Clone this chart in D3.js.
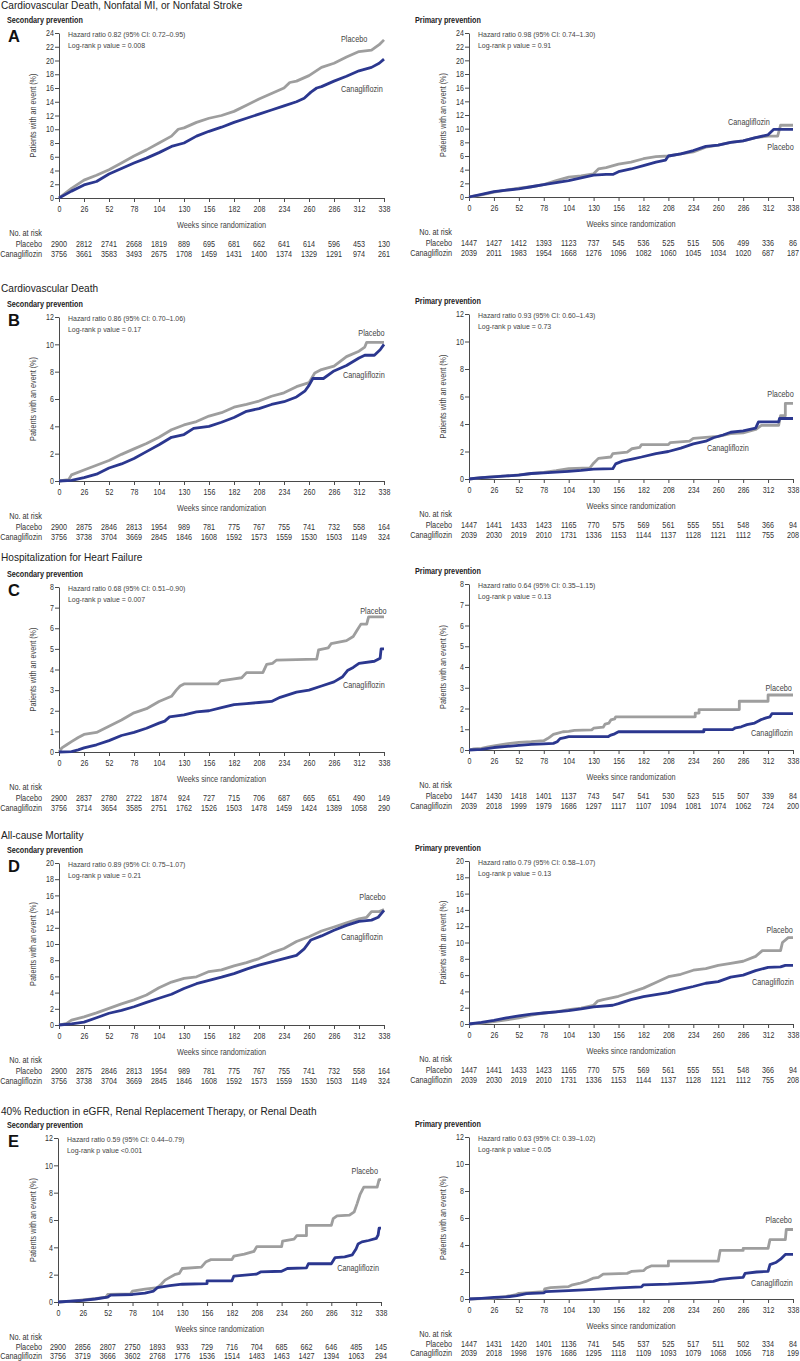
<!DOCTYPE html>
<html><head><meta charset="utf-8">
<script src="https://cdn.jsdelivr.net/npm/d3@7"></script>
<style>
body{margin:0;background:#fff}
svg{display:block}
text{font-family:"Liberation Sans",Arial,sans-serif}
</style></head><body>
<svg id="chart" width="800" height="1361"></svg>
<script>
// ---------- DATA ----------
const weekTicks = [0,26,52,78,104,130,156,182,208,234,260,286,312,338];
const yTicksA = [0,2,4,6,8,10,12,14,16,18,20,22,24];
const yTicksB = [0,2,4,6,8,10,12];
const yTicksC = [0,1,2,3,4,5,6,7,8];
const yTicksD = [0,2,4,6,8,10,12,14,16,18,20];
const yTicksE = [0,2,4,6,8,10,12];

const outcomeTitles = [
  "Cardiovascular Death, Nonfatal MI, or Nonfatal Stroke",
  "Cardiovascular Death",
  "Hospitalization for Heart Failure",
  "All-cause Mortality",
  "40% Reduction in eGFR, Renal Replacement Therapy, or Renal Death"
];
const panelLetters = ["A","B","C","D","E"];
const groupNames = ["Placebo","Canagliflozin"];

// Kaplan-Meier curves: [week, % with event]
const aSecPlacebo = [[0,0],[13,1.4],[26,2.6],[39,3.3],[52,4.1],[65,5.1],[78,6.1],[91,7.0],[104,8.0],[117,9.0],[124,10.0],[130,10.2],[143,11.0],[156,11.6],[169,12.0],[182,12.6],[195,13.5],[208,14.4],[221,15.2],[234,16.0],[240,16.8],[247,17.0],[260,17.8],[273,19.0],[286,19.6],[299,20.5],[312,21.3],[325,21.5],[333,22.3],[338,23.0]];
const aSecCana = [[0,0],[13,1.0],[26,1.9],[39,2.4],[52,3.5],[65,4.3],[78,5.1],[91,5.8],[104,6.6],[117,7.5],[130,8.0],[143,9.0],[156,9.7],[169,10.3],[182,11.0],[195,11.6],[208,12.2],[221,12.8],[234,13.4],[247,14.0],[255,14.5],[262,15.4],[268,16.0],[273,16.2],[286,17.0],[299,17.7],[312,18.5],[325,19.0],[333,19.6],[338,20.2]];
const aPriPlacebo = [[0,0],[13,0.3],[26,0.7],[39,1.0],[52,1.3],[65,1.5],[78,1.8],[91,2.4],[104,2.9],[117,3.1],[130,3.4],[135,4.1],[143,4.3],[156,4.8],[169,5.1],[182,5.6],[195,5.9],[208,6.0],[221,6.3],[234,6.6],[247,7.3],[260,7.6],[273,8.0],[286,8.2],[299,8.7],[312,8.9],[322,8.9],[325,10.5],[338,10.5]];
const aPriCana = [[0,0],[13,0.4],[26,0.8],[39,1.0],[52,1.2],[65,1.5],[78,1.8],[91,2.1],[104,2.4],[117,2.8],[130,3.2],[143,3.3],[150,3.3],[156,3.7],[169,4.1],[182,4.6],[195,5.1],[205,5.4],[208,6.0],[221,6.3],[234,6.8],[247,7.4],[260,7.6],[273,8.0],[286,8.2],[299,8.7],[312,9.1],[318,9.9],[338,9.9]];

const bSecPlacebo = [[0,0],[10,0.1],[13,0.45],[26,0.8],[39,1.15],[52,1.5],[65,1.95],[78,2.35],[91,2.75],[104,3.2],[117,3.75],[130,4.1],[143,4.35],[156,4.75],[169,5.0],[182,5.4],[195,5.6],[208,5.85],[221,6.2],[234,6.45],[247,6.9],[260,7.2],[266,7.9],[273,8.15],[286,8.4],[299,9.1],[312,9.5],[318,9.8],[320,10.15],[338,10.15]];
const bSecCana = [[0,0],[13,0.05],[26,0.25],[39,0.5],[52,0.95],[65,1.25],[78,1.65],[91,2.15],[104,2.65],[117,3.2],[130,3.4],[140,3.85],[156,4.0],[169,4.3],[182,4.65],[195,5.1],[208,5.3],[221,5.6],[234,5.8],[247,6.15],[256,6.6],[260,7.0],[264,7.5],[275,7.5],[286,8.05],[299,8.45],[312,9.0],[318,9.2],[328,9.2],[334,9.6],[338,10.0]];
const bPriPlacebo = [[0,0],[13,0.1],[26,0.17],[39,0.22],[52,0.3],[65,0.4],[78,0.48],[91,0.6],[104,0.75],[126,0.8],[130,1.15],[135,1.5],[148,1.6],[150,1.85],[165,1.95],[170,2.2],[178,2.3],[180,2.5],[208,2.5],[210,2.65],[230,2.75],[234,2.95],[260,3.1],[273,3.3],[286,3.35],[299,3.6],[305,3.9],[323,3.9],[325,4.6],[330,4.6],[330,5.5],[338,5.5]];
const bPriCana = [[0,0],[13,0.1],[26,0.15],[39,0.22],[52,0.28],[65,0.4],[78,0.45],[104,0.55],[117,0.62],[130,0.72],[150,0.75],[153,1.1],[160,1.3],[170,1.45],[180,1.6],[195,1.85],[208,2.0],[221,2.25],[234,2.55],[247,2.75],[255,3.0],[265,3.2],[273,3.4],[286,3.5],[299,3.7],[302,4.15],[323,4.15],[324,4.4],[338,4.4]];

const cSecPlacebo = [[0,0],[3,0.2],[8,0.35],[13,0.5],[20,0.7],[26,0.85],[39,0.95],[52,1.25],[65,1.55],[78,1.9],[91,2.1],[104,2.45],[117,2.7],[122,3.0],[126,3.2],[130,3.3],[165,3.3],[168,3.45],[182,3.55],[190,3.6],[195,3.85],[212,3.85],[216,4.25],[222,4.3],[226,4.45],[268,4.5],[270,4.95],[280,5.05],[283,5.25],[299,5.4],[306,5.6],[310,5.9],[314,6.2],[320,6.2],[322,6.55],[338,6.55]];
const cSecCana = [[0,0],[13,0.02],[20,0.1],[26,0.2],[39,0.35],[52,0.55],[65,0.8],[78,0.95],[91,1.15],[104,1.4],[110,1.5],[115,1.7],[130,1.8],[143,1.95],[156,2.0],[169,2.15],[182,2.3],[195,2.35],[208,2.4],[221,2.45],[230,2.65],[247,2.9],[260,3.0],[273,3.2],[286,3.4],[295,3.65],[300,3.95],[306,4.1],[312,4.3],[328,4.4],[334,4.55],[335,5.0],[338,5.0]];
const cPriPlacebo = [[0,0],[5,0.05],[13,0.08],[20,0.15],[26,0.2],[39,0.3],[52,0.37],[65,0.4],[78,0.45],[82,0.55],[85,0.65],[88,0.75],[92,0.8],[98,0.88],[104,0.9],[110,0.95],[128,0.97],[130,1.05],[140,1.1],[142,1.25],[146,1.3],[148,1.45],[152,1.5],[153,1.6],[236,1.6],[236,1.78],[240,1.78],[240,1.95],[282,1.95],[282,2.35],[312,2.35],[312,2.65],[338,2.65]];
const cPriCana = [[0,0],[13,0.03],[26,0.12],[52,0.22],[65,0.27],[78,0.3],[88,0.32],[92,0.4],[95,0.55],[100,0.6],[104,0.64],[145,0.64],[148,0.72],[152,0.78],[156,0.88],[245,0.88],[245,0.98],[275,0.98],[278,1.07],[284,1.12],[290,1.22],[298,1.3],[304,1.45],[310,1.55],[314,1.6],[316,1.75],[338,1.75]];

const dSecPlacebo = [[0,0],[8,0.2],[13,0.6],[26,1.0],[39,1.5],[52,2.05],[65,2.6],[78,3.1],[91,3.7],[104,4.6],[117,5.3],[130,5.75],[143,5.95],[156,6.6],[169,6.8],[182,7.3],[195,7.7],[208,8.2],[221,8.9],[234,9.45],[247,10.3],[260,10.9],[273,11.6],[286,12.1],[299,12.6],[312,13.1],[320,13.3],[325,14.0],[333,14.0],[338,14.25]];
const dSecCana = [[0,0],[13,0.15],[26,0.35],[39,0.9],[52,1.45],[65,1.8],[78,2.25],[91,2.8],[104,3.3],[117,3.8],[130,4.5],[143,5.1],[156,5.5],[169,5.9],[182,6.35],[195,6.9],[208,7.4],[221,7.8],[234,8.2],[247,8.6],[255,9.4],[262,10.5],[273,11.0],[286,11.7],[299,12.3],[312,12.8],[325,12.95],[332,13.3],[338,14.15]];
const dPriPlacebo = [[0,0],[13,0.1],[26,0.3],[39,0.5],[52,0.75],[65,1.1],[78,1.35],[91,1.5],[104,1.75],[117,1.95],[130,2.3],[134,2.8],[140,3.0],[156,3.4],[169,3.9],[182,4.4],[195,5.1],[208,5.8],[221,6.1],[234,6.6],[247,6.8],[260,7.2],[273,7.45],[286,7.7],[299,8.3],[306,9.0],[325,9.0],[327,10.0],[333,10.6],[338,10.6]];
const dPriCana = [[0,0],[13,0.2],[26,0.45],[39,0.75],[52,1.0],[65,1.2],[78,1.35],[91,1.5],[104,1.65],[117,1.85],[130,2.1],[150,2.3],[156,2.5],[169,3.0],[182,3.35],[195,3.6],[208,3.85],[221,4.25],[234,4.6],[247,5.0],[260,5.2],[273,5.75],[286,6.0],[299,6.55],[312,6.95],[325,7.0],[330,7.2],[338,7.2]];

const eSecPlacebo = [[0,0],[13,0.05],[26,0.15],[39,0.25],[50,0.35],[52,0.55],[76,0.6],[78,0.8],[91,0.95],[104,1.05],[108,1.3],[112,1.6],[117,1.8],[122,2.0],[127,2.1],[130,2.45],[150,2.55],[155,2.95],[160,3.1],[182,3.1],[184,3.35],[195,3.5],[205,3.7],[208,4.05],[234,4.05],[235,4.45],[247,4.6],[250,4.85],[260,4.85],[260,5.6],[286,5.6],[288,6.1],[292,6.3],[305,6.35],[310,6.6],[313,7.2],[316,7.85],[320,8.4],[334,8.4],[336,8.95],[338,8.95]];
const eSecCana = [[0,0],[26,0.12],[39,0.22],[52,0.35],[55,0.5],[78,0.55],[91,0.65],[100,0.8],[104,1.05],[117,1.2],[130,1.3],[156,1.35],[156,1.55],[182,1.55],[184,1.9],[208,2.05],[212,2.2],[234,2.25],[240,2.45],[260,2.5],[262,2.8],[286,2.8],[290,3.25],[300,3.3],[308,3.45],[312,3.9],[314,4.25],[318,4.4],[325,4.5],[333,4.65],[335,4.9],[336,5.4],[338,5.4]];
const ePriPlacebo = [[0,0],[26,0.07],[39,0.2],[48,0.3],[52,0.42],[78,0.55],[79,0.75],[85,0.85],[104,0.92],[108,1.05],[115,1.15],[122,1.3],[130,1.55],[135,1.6],[140,1.85],[165,1.9],[170,2.05],[182,2.1],[185,2.3],[190,2.45],[208,2.45],[208,2.8],[260,2.8],[262,3.6],[286,3.6],[286,3.75],[312,3.75],[314,4.4],[330,4.4],[331,5.15],[338,5.15]];
const ePriCana = [[0,0],[13,0.05],[26,0.12],[39,0.15],[50,0.25],[60,0.4],[78,0.45],[80,0.55],[104,0.62],[130,0.72],[156,0.82],[180,0.9],[182,1.05],[208,1.1],[234,1.2],[255,1.3],[262,1.45],[275,1.55],[286,1.6],[288,1.9],[300,2.0],[312,2.05],[314,2.55],[320,2.7],[325,2.95],[330,3.3],[338,3.3]];

// Numbers at risk
const aSecRiskPlacebo = [2900,2812,2741,2668,1819,889,695,681,662,641,614,596,453,130];
const aSecRiskCana    = [3756,3661,3583,3493,2675,1708,1459,1431,1400,1374,1329,1291,974,261];
const aPriRiskPlacebo = [1447,1427,1412,1393,1123,737,545,536,525,515,506,499,336,86];
const aPriRiskCana    = [2039,2011,1983,1954,1668,1276,1096,1082,1060,1045,1034,1020,687,187];
const bSecRiskPlacebo = [2900,2875,2846,2813,1954,989,781,775,767,755,741,732,558,164];
const bSecRiskCana    = [3756,3738,3704,3669,2845,1846,1608,1592,1573,1559,1530,1503,1149,324];
const bPriRiskPlacebo = [1447,1441,1433,1423,1165,770,575,569,561,555,551,548,366,94];
const bPriRiskCana    = [2039,2030,2019,2010,1731,1336,1153,1144,1137,1128,1121,1112,755,208];
const cSecRiskPlacebo = [2900,2837,2780,2722,1874,924,727,715,706,687,665,651,490,149];
const cSecRiskCana    = [3756,3714,3654,3585,2751,1762,1526,1503,1478,1459,1424,1389,1058,290];
const cPriRiskPlacebo = [1447,1430,1418,1401,1137,743,547,541,530,523,515,507,339,84];
const cPriRiskCana    = [2039,2018,1999,1979,1686,1297,1117,1107,1094,1081,1074,1062,724,200];
const dSecRiskPlacebo = [2900,2875,2846,2813,1954,989,781,775,767,755,741,732,558,164];
const dSecRiskCana    = [3756,3738,3704,3669,2845,1846,1608,1592,1573,1559,1530,1503,1149,324];
const dPriRiskPlacebo = [1447,1441,1433,1423,1165,770,575,569,561,555,551,548,366,94];
const dPriRiskCana    = [2039,2030,2019,2010,1731,1336,1153,1144,1137,1128,1121,1112,755,208];
const eSecRiskPlacebo = [2900,2856,2807,2750,1893,933,729,716,704,685,662,646,485,145];
const eSecRiskCana    = [3756,3719,3666,3602,2768,1776,1536,1514,1483,1463,1427,1394,1063,294];
const ePriRiskPlacebo = [1447,1431,1420,1401,1136,741,545,537,525,517,511,502,334,84];
const ePriRiskCana    = [2039,2018,1998,1976,1686,1295,1118,1109,1093,1079,1068,1056,718,199];

const hazardTexts = [
  ["Hazard ratio 0.82 (95% CI: 0.72–0.95)","Log-rank p value = 0.008"],
  ["Hazard ratio 0.98 (95% CI: 0.74–1.30)","Log-rank p value = 0.91"],
  ["Hazard ratio 0.86 (95% CI: 0.70–1.06)","Log-rank p value = 0.17"],
  ["Hazard ratio 0.93 (95% CI: 0.60–1.43)","Log-rank p value = 0.73"],
  ["Hazard ratio 0.68 (95% CI: 0.51–0.90)","Log-rank p value = 0.007"],
  ["Hazard ratio 0.64 (95% CI: 0.35–1.15)","Log-rank p value = 0.13"],
  ["Hazard ratio 0.89 (95% CI: 0.75–1.07)","Log-rank p value = 0.21"],
  ["Hazard ratio 0.79 (95% CI: 0.58–1.07)","Log-rank p value = 0.13"],
  ["Hazard ratio 0.59 (95% CI: 0.44–0.79)","Log-rank p value <0.001"],
  ["Hazard ratio 0.63 (95% CI: 0.39–1.02)","Log-rank p value = 0.05"]
];

// ---------- LAYOUT ----------
const layout = {
  cols: {
    sec: {x0:59, x1:384, riskLabelX:42, yLabelX:33, subX:7, subText:"Secondary prevention"},
    pri: {x0:469, x1:793, riskLabelX:452, yLabelX:443, subX:415, subText:"Primary prevention"}
  },
  rows: [
    {titleY:9,    secTop:33,   secBot:198,  priTop:33,   priBot:197,  risk:[38,49,59]},
    {titleY:292,  secTop:317,  secBot:481,  priTop:314,  priBot:479,  risk:[38,49,59]},
    {titleY:561,  secTop:587,  secBot:752,  priTop:584,  priBot:750,  risk:[38,49,59]},
    {titleY:839,  secTop:863,  secBot:1025, priTop:861,  priBot:1024, risk:[38,48.5,58.5]},
    {titleY:1115, secTop:1138, secBot:1302, priTop:1137, priBot:1299, risk:[37.5,47.5,56.5], secX0:58, secX1:381}
  ]
};
const colors = {placebo:"#9e9e9e", cana:"#2b378f", axis:"#4a4a4a", text:"#333"};
const SX = 0.87; // horizontal condensing of the narrow text

const panels = [
  {row:0,col:"sec",yTicks:yTicksA,p:aSecPlacebo,c:aSecCana,rp:aSecRiskPlacebo,rc:aSecRiskCana,hr:0,lp:[307,23.1],lc:[315,15.85]},
  {row:0,col:"pri",yTicks:yTicksA,p:aPriPlacebo,c:aPriCana,rp:aPriRiskPlacebo,rc:aPriRiskCana,hr:1,lp:[325,7.3],lc:[292,11.0]},
  {row:1,col:"sec",yTicks:yTicksB,p:bSecPlacebo,c:bSecCana,rp:bSecRiskPlacebo,rc:bSecRiskCana,hr:2,lp:[325,10.8],lc:[317,7.75]},
  {row:1,col:"pri",yTicks:yTicksB,p:bPriPlacebo,c:bPriCana,rp:bPriRiskPlacebo,rc:bPriRiskCana,hr:3,lp:[325,6.2],lc:[270,2.25]},
  {row:2,col:"sec",yTicks:yTicksC,p:cSecPlacebo,c:cSecCana,rp:cSecRiskPlacebo,rc:cSecRiskCana,hr:4,lp:[327,6.84],lc:[317,3.25]},
  {row:2,col:"pri",yTicks:yTicksC,p:cPriPlacebo,c:cPriCana,rp:cPriRiskPlacebo,rc:cPriRiskCana,hr:5,lp:[323,3.0],lc:[316,0.82]},
  {row:3,col:"sec",yTicks:yTicksD,p:dSecPlacebo,c:dSecCana,rp:dSecRiskPlacebo,rc:dSecRiskCana,hr:6,lp:[326,15.8],lc:[315,10.9]},
  {row:3,col:"pri",yTicks:yTicksD,p:dPriPlacebo,c:dPriCana,rp:dPriRiskPlacebo,rc:dPriRiskCana,hr:7,lp:[324,11.5],lc:[317,5.15]},
  {row:4,col:"sec",yTicks:yTicksE,p:eSecPlacebo,c:eSecCana,rp:eSecRiskPlacebo,rc:eSecRiskCana,hr:8,lp:[321,9.6],lc:[314,2.5]},
  {row:4,col:"pri",yTicks:yTicksE,p:ePriPlacebo,c:ePriCana,rp:ePriRiskPlacebo,rc:ePriRiskCana,hr:9,lp:[323,5.85],lc:[316,1.2]}
];

// ---------- DRAW ----------
const svg = d3.select("#chart");

// condensed text helper
function ctext(parent, x, y, str, o = {}) {
  const t = parent.append("text")
    .attr("transform", `translate(${x},${y})${o.rotate ? " rotate(" + o.rotate + ")" : ""} scale(${o.sx || SX},1)`)
    .attr("font-size", o.size || 8)
    .attr("fill", o.fill || colors.text)
    .attr("text-anchor", o.anchor || "start")
    .text(str);
  if (o.weight) t.attr("font-weight", o.weight);
  if (o.mid) t.attr("dy", "0.35em");
  return t;
}

layout.rows.forEach((r,i)=>{
  svg.append("text").attr("x",1).attr("y",r.titleY)
    .attr("font-size",10.1).attr("fill","#222").text(outcomeTitles[i]);
  svg.append("text").attr("x",8).attr("y",r.secTop+9)
    .attr("font-size",16.5).attr("font-weight","bold").attr("fill","#111").text(panelLetters[i]);
});

panels.forEach(pn=>{
  const col = layout.cols[pn.col], row = layout.rows[pn.row];
  const x0 = (pn.col==="sec" && row.secX0) || col.x0;
  const x1 = (pn.col==="sec" && row.secX1) || col.x1;
  const top = row[pn.col+"Top"], bot = row[pn.col+"Bot"];
  const x = d3.scaleLinear().domain([0,338]).range([x0,x1]);
  const y = d3.scaleLinear().domain([0,d3.max(pn.yTicks)]).range([bot,top]);
  const g = svg.append("g");

  ctext(g, col.subX, top-10.5, col.subText, {size:8.6, weight:"bold", fill:"#222", sx:0.84});

  // axes
  const ya = g.append("g").attr("transform",`translate(${x0},0)`)
    .call(d3.axisLeft(y).tickValues(pn.yTicks).tickSize(4).tickSizeOuter(0).tickPadding(2));
  const xa = g.append("g").attr("transform",`translate(0,${bot})`)
    .call(d3.axisBottom(x).tickValues(weekTicks).tickSize(4).tickSizeOuter(0).tickPadding(4));
  [ya,xa].forEach(a=>{
    a.selectAll("path,line").attr("stroke",colors.axis).attr("stroke-width",1);
    a.selectAll("text").attr("font-family","Liberation Sans, Arial, sans-serif")
      .attr("font-size",8.4).attr("fill",colors.text).attr("transform","scale(0.84,1)");
  });

  // y label
  ctext(g, col.yLabelX, (top+bot)/2, "Patients with an event (%)",
        {rotate:-90, anchor:"middle", mid:true, size:8.2, fill:"#444", sx:0.88});

  // x label
  ctext(g, (x0+x1)/2, bot+30, "Weeks since randomization", {anchor:"middle", size:8.4, fill:"#444"});

  // hazard text
  hazardTexts[pn.hr].forEach((t,k)=>{
    ctext(g, x0+9, top+3.5+k*11, t, {size:8, fill:"#444"});
  });

  // curves
  const line = d3.line().x(d=>x(d[0])).y(d=>y(d[1]));
  g.append("path").datum(pn.p).attr("d",line).attr("fill","none")
    .attr("stroke",colors.placebo).attr("stroke-width",2.8).attr("stroke-linejoin","round");
  g.append("path").datum(pn.c).attr("d",line).attr("fill","none")
    .attr("stroke",colors.cana).attr("stroke-width",2.8).attr("stroke-linejoin","round");

  // curve labels
  ctext(g, x(pn.lp[0]), y(pn.lp[1]), groupNames[0], {anchor:"middle", mid:true, size:8.4, fill:"#444"});
  ctext(g, x(pn.lc[0]), y(pn.lc[1]), groupNames[1], {anchor:"middle", mid:true, size:8.4, fill:"#444"});

  // at-risk table
  const [dN, dP, dC] = row.risk;
  ctext(g, col.riskLabelX, bot+dN, "No. at risk", {anchor:"end", size:8.4});
  [[pn.rp,dP],[pn.rc,dC]].forEach(([arr,dy],k)=>{
    ctext(g, col.riskLabelX, bot+dy, groupNames[k], {anchor:"end", size:8.4});
    arr.forEach((v,i)=>{
      ctext(g, x(weekTicks[i]), bot+dy, String(v), {anchor:"middle", size:8.4, sx:0.86});
    });
  });
});
</script>
</body></html>
